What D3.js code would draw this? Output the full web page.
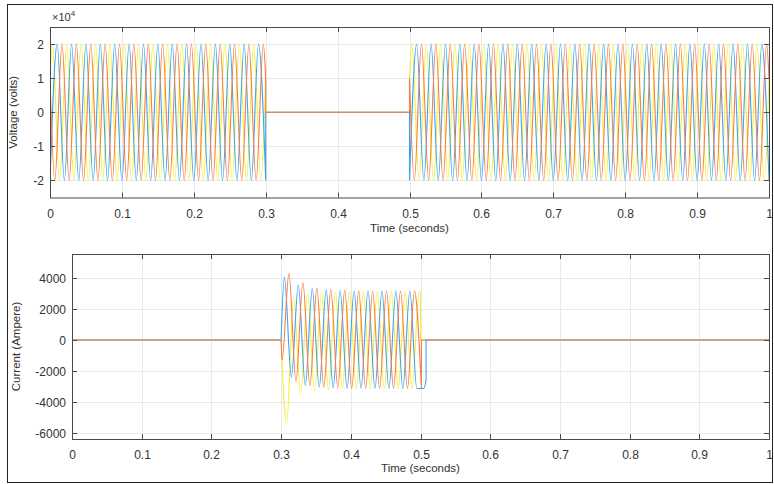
<!DOCTYPE html>
<html><head><meta charset="utf-8">
<script src="https://cdn.jsdelivr.net/npm/d3@7"></script>
<style>
body{margin:0;background:#fff}
svg{display:block}
text{font-family:"Liberation Sans",Arial,Helvetica,sans-serif;fill:#333}
</style>
</head><body>
<svg id="chart" width="774" height="484"></svg>
<script>
// ---------------- data ----------------
const timeTicks = [0, 0.1, 0.2, 0.3, 0.4, 0.5, 0.6, 0.7, 0.8, 0.9, 1];
const timeTickLabels = ["0", "0.1", "0.2", "0.3", "0.4", "0.5", "0.6", "0.7", "0.8", "0.9", "1"];
const voltageTicks = [-20000, -10000, 0, 10000, 20000];
const voltageTickLabels = ["-2", "-1", "0", "1", "2"];
const currentTicks = [-6000, -4000, -2000, 0, 2000, 4000];
const currentTickLabels = ["-6000", "-4000", "-2000", "0", "2000", "4000"];

const phaseNames = ["Phase A", "Phase B", "Phase C"];
const phaseColors = ["#f5ef3a", "#3aa5f2", "#f77c45"];   // yellow, blue, orange (Simulink scope order)

const halfPeriod = 0.01;                 // 50 Hz -> extrema every 10 ms
// voltage: source on, off during 0.3-0.5 s
const voltageOnStart = [0, 0.5];
const voltageOnEnd = [0.3, 1.0];
const voltagePeak = 20000;
const voltageFirstMax = [0.00333, 0.01, 0.01667];
const voltageEdgeValue = [10000, -20000, 10000];

// current: zero, fault current between 0.3 and ~0.5 s
const faultStart = 0.3;
const currentFirstExtremum = [0.308, 0.3047, 0.3013];
const currentPeaksYellow = [-5350, 2700, -3450, 2950, -3250, 3050, -3200, 3100, -3150, 3120,
                            -3150, 3130, -3150, 3130, -3150, 3130, -3150, 3130, -3150, 3130];
const currentPeaksBlue   = [4060, -2400, 3550, -2950, 3300, -3050, 3220, -3100, 3180, -3120,
                            3160, -3130, 3160, -3130, 3160, -3130, 3160, -3130, 3160, -3130, -3130];
const currentPeaksOrange = [-1300, 4300, -2700, 3700, -2950, 3350, -3050, 3250, -3100, 3200,
                            -3120, 3170, -3130, 3160, -3130, 3160, -3130, 3160, -3130, 3160, -3130];
const currentEndTime = [0.5, 0.508, 0.5013];
const currentEndValue = [3050, -2600, -3130];

// ---------------- layout ----------------
const svg = d3.select("#chart");
const boxV = {x0: 50, x1: 769, y0: 27, y1: 197.5};
const boxI = {x0: 72, x1: 769, y0: 254, y1: 439};

const xV = d3.scaleLinear().domain([0, 1]).range([boxV.x0, boxV.x1]);
const yV = d3.scaleLinear().domain([-25000, 25000]).range([boxV.y1, boxV.y0]);
const xI = d3.scaleLinear().domain([0, 1]).range([boxI.x0, boxI.x1]);
const yI = d3.scaleLinear().domain([-6390, 5550]).range([boxI.y1, boxI.y0]);

// figure frame
svg.append("rect").attr("x", 7.5).attr("y", 4.5).attr("width", 765).attr("height", 478)
  .attr("fill", "none").attr("stroke", "#222").attr("stroke-width", 1);

function drawGrid(b, x, y, yTicks) {
  const g = svg.append("g");
  g.selectAll(".gx").data(timeTicks).join("line")
    .attr("x1", d => Math.round(x(d)) + 0.5).attr("x2", d => Math.round(x(d)) + 0.5)
    .attr("y1", b.y0).attr("y2", b.y1).attr("stroke", "#e9e9e9");
  g.selectAll(".gy").data(yTicks).join("line")
    .attr("y1", d => Math.round(y(d)) + 0.5).attr("y2", d => Math.round(y(d)) + 0.5)
    .attr("x1", b.x0).attr("x2", b.x1).attr("stroke", "#e9e9e9");
}

function drawFrame(b, x, y, yTicks, yLabels, yTitle, yTitleX, labelY) {
  const g = svg.append("g");
  const tl = 5;
  g.append("rect").attr("x", b.x0 + 0.5).attr("y", b.y0 + 0.5)
    .attr("width", b.x1 - b.x0).attr("height", b.y1 - b.y0)
    .attr("fill", "none").attr("stroke", "#4a4a4a");
  timeTicks.forEach((d, i) => {
    const px = Math.round(x(d)) + 0.5;
    g.append("line").attr("x1", px).attr("x2", px).attr("y1", b.y1).attr("y2", b.y1 - tl).attr("stroke", "#4a4a4a");
    g.append("line").attr("x1", px).attr("x2", px).attr("y1", b.y0).attr("y2", b.y0 + tl).attr("stroke", "#4a4a4a");
    g.append("text").attr("x", px).attr("y", b.y1 + 20).attr("text-anchor", "middle")
      .attr("font-size", 12).text(timeTickLabels[i]);
  });
  yTicks.forEach((d, i) => {
    const py = Math.round(y(d)) + 0.5;
    g.append("line").attr("x1", b.x0).attr("x2", b.x0 + tl).attr("y1", py).attr("y2", py).attr("stroke", "#4a4a4a");
    g.append("line").attr("x1", b.x1).attr("x2", b.x1 - tl).attr("y1", py).attr("y2", py).attr("stroke", "#4a4a4a");
    g.append("text").attr("x", b.x0 - 6).attr("y", py + 4).attr("text-anchor", "end")
      .attr("font-size", 12).text(yLabels[i]);
  });
  g.append("text").attr("x", (b.x0 + b.x1) / 2).attr("y", labelY).attr("text-anchor", "middle")
    .attr("font-size", 11.5).text("Time (seconds)");
  g.append("text").attr("transform", `translate(${yTitleX},${(b.y0 + b.y1) / 2}) rotate(-90)`)
    .attr("text-anchor", "middle").attr("font-size", 11.5).text(yTitle);
}

const lineMono = (x, y) => d3.line().x(d => x(d[0])).y(d => y(d[1])).curve(d3.curveMonotoneX);
const lineLin = (x, y) => d3.line().x(d => x(d[0])).y(d => y(d[1]));

// ---------------- voltage ----------------
drawGrid(boxV, xV, yV, voltageTicks);
svg.append("clipPath").attr("id", "clipV").append("rect")
  .attr("x", boxV.x0).attr("y", boxV.y0).attr("width", boxV.x1 - boxV.x0 + 1).attr("height", boxV.y1 - boxV.y0);

function voltagePath(k) {
  const mono = lineMono(xV, yV), lin = lineLin(xV, yV);
  let d = "";
  for (let s = 0; s < voltageOnStart.length; s++) {
    const a = voltageOnStart[s], b = voltageOnEnd[s];
    const pts = [];
    const n0 = Math.ceil((a - voltageFirstMax[k]) / halfPeriod - 1e-6);
    const n1 = Math.floor((b - voltageFirstMax[k]) / halfPeriod + 1e-6);
    const first = voltageFirstMax[k] + n0 * halfPeriod;
    if (Math.abs(first - a) > 1e-4) pts.push([a, voltageEdgeValue[k]]);
    for (let n = n0; n <= n1; n++) {
      const t = voltageFirstMax[k] + n * halfPeriod;
      pts.push([t, (((n % 2) + 2) % 2 === 0 ? 1 : -1) * voltagePeak]);
    }
    const last = voltageFirstMax[k] + n1 * halfPeriod;
    if (Math.abs(last - b) > 1e-4) pts.push([b, voltageEdgeValue[k]]);
    d += mono(pts);
    if (s < voltageOnStart.length - 1) {
      const nx = voltageOnStart[s + 1];
      d += lin([[b, pts[pts.length - 1][1]], [b, 0], [nx, 0], [nx, voltageEdgeValue[k]]]);
    }
  }
  return d;
}
const gV = svg.append("g").attr("clip-path", "url(#clipV)");
[0, 1, 2].forEach(k => {
  gV.append("path").attr("d", voltagePath(k)).attr("fill", "none")
    .attr("stroke", phaseColors[k]).attr("stroke-width", 1.1).attr("stroke-linejoin", "round");
});
drawFrame(boxV, xV, yV, voltageTicks, voltageTickLabels, "Voltage (volts)", 17, 232);
svg.append("text").attr("x", 52).attr("y", 21).attr("font-size", 11).text("\u00d710")
  .append("tspan").attr("dy", -5).attr("font-size", 8).text("4");

// ---------------- current ----------------
drawGrid(boxI, xI, yI, currentTicks);
svg.append("clipPath").attr("id", "clipI").append("rect")
  .attr("x", boxI.x0).attr("y", boxI.y0).attr("width", boxI.x1 - boxI.x0 + 1).attr("height", boxI.y1 - boxI.y0);
const currentPeaks = [currentPeaksYellow, currentPeaksBlue, currentPeaksOrange];
function currentPath(k) {
  const mono = lineMono(xI, yI), lin = lineLin(xI, yI);
  const pts = [[faultStart, 0]];
  currentPeaks[k].forEach((v, n) => {
    const t = currentFirstExtremum[k] + n * halfPeriod;
    if (t <= currentEndTime[k] + 1e-6) pts.push([t, v]);
  });
  if (Math.abs(pts[pts.length - 1][0] - currentEndTime[k]) > 1e-4) pts.push([currentEndTime[k], currentEndValue[k]]);
  let d = lin([[0, 0], [faultStart, 0]]);
  d += mono(pts);
  const e = pts[pts.length - 1];
  d += lin([e, [e[0], 0], [1, 0]]);
  return d;
}
const gI = svg.append("g").attr("clip-path", "url(#clipI)");
[0, 1, 2].forEach(k => {
  gI.append("path").attr("d", currentPath(k)).attr("fill", "none")
    .attr("stroke", phaseColors[k]).attr("stroke-width", 1.1).attr("stroke-linejoin", "round");
});
drawFrame(boxI, xI, yI, currentTicks, currentTickLabels, "Current (Ampere)", 20, 472);
</script>
</body></html>
